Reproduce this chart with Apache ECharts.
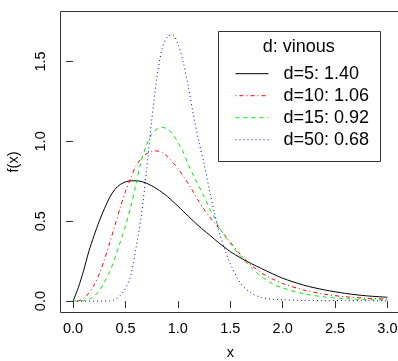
<!DOCTYPE html>
<html>
<head>
<meta charset="utf-8">
<script src="https://cdn.jsdelivr.net/npm/echarts@6/dist/echarts.min.js"></script>
<style>
html,body{margin:0;padding:0;background:#fff;}
#c{width:398px;height:361px;}
</style>
</head>
<body>
<div id="c"></div>
<script>
// x grid shared by all curves
const xs = [0,0.05,0.1,0.15,0.2,0.25,0.3,0.35,0.4,0.45,0.5,0.55,0.6,0.65,0.7,0.75,0.8,0.85,0.9,0.95,1.0,1.05,1.1,1.15,1.2,1.25,1.3,1.35,1.4,1.45,1.5,1.6,1.7,1.8,1.9,2.0,2.2,2.4,2.6,2.8,3.0];
const d5  = [0,0.085,0.19,0.31,0.41,0.50,0.58,0.65,0.70,0.73,0.746,0.753,0.753,0.749,0.738,0.722,0.703,0.68,0.655,0.625,0.595,0.563,0.532,0.50,0.47,0.442,0.415,0.387,0.36,0.335,0.31,0.27,0.235,0.203,0.172,0.143,0.10,0.07,0.048,0.033,0.024];
const d10 = [0,0.002,0.015,0.05,0.10,0.17,0.26,0.365,0.475,0.585,0.685,0.77,0.845,0.893,0.922,0.937,0.94,0.93,0.905,0.87,0.83,0.785,0.735,0.68,0.625,0.575,0.53,0.49,0.45,0.41,0.37,0.29,0.225,0.175,0.14,0.11,0.07,0.043,0.027,0.018,0.013];
const d15 = [0,0,0.002,0.01,0.03,0.065,0.12,0.185,0.27,0.37,0.47,0.59,0.73,0.875,0.975,1.045,1.077,1.087,1.078,1.045,0.995,0.935,0.855,0.785,0.72,0.655,0.585,0.52,0.455,0.405,0.36,0.28,0.21,0.152,0.11,0.082,0.046,0.026,0.015,0.009,0.006];
const d50 = [0,0,0,0,0,0,0,0.002,0.01,0.035,0.08,0.16,0.33,0.53,0.81,1.13,1.40,1.58,1.655,1.668,1.61,1.50,1.34,1.16,1.00,0.86,0.70,0.55,0.42,0.32,0.235,0.11,0.05,0.022,0.012,0.008,0.004,0.003,0.003,0.002,0.002];
const seriesNames = ['d=5: 1.40','d=10: 1.06','d=15: 0.92','d=50: 0.68'];
const xTicks = [0,0.5,1,1.5,2,2.5,3];
const yTicks = [0,0.5,1,1.5];
const legendTitle = 'd: vinous';

const curves = [d5,d10,d15,d50];
const colors = ['#000000','#ff0000','#00ee00','#0000ff'];
const dashes = ['solid',[1,3,4,3],[4,4],[1,3]];

const chart = echarts.init(document.getElementById('c'), null, {renderer:'canvas'});
const font = 'Liberation Sans, Arial, sans-serif';
chart.setOption({
  animation:false,
  backgroundColor:'#fff',
  grid:{left:60.5,top:11.5,right:-2,bottom:48.5,show:true,borderColor:'#333',borderWidth:1,containLabel:false,outerBoundsMode:'none'},
  xAxis:{type:'value',min:-0.12,max:3.12,
    axisLine:{show:false},splitLine:{show:false},
    axisTick:{show:true,length:7,inside:false,lineStyle:{color:'#333'},customValues:xTicks},
    axisLabel:{customValues:xTicks,formatter:v=>v.toFixed(1),fontSize:14.5,color:'#000',fontFamily:font,margin:9},
    name:'x',nameLocation:'middle',nameGap:33,nameTextStyle:{fontSize:14.5,color:'#000',fontFamily:font}},
  yAxis:{type:'value',min:-0.0714,max:1.813,
    axisLine:{show:false},splitLine:{show:false},
    axisTick:{show:true,length:7,inside:false,lineStyle:{color:'#333'},customValues:yTicks},
    axisLabel:{customValues:yTicks,formatter:v=>v.toFixed(1),rotate:90,fontSize:14.5,color:'#000',fontFamily:font,margin:12},
    name:'f(x)',nameLocation:'middle',nameGap:39,nameRotate:90,nameTextStyle:{fontSize:14.5,color:'#000',fontFamily:font}},
  legend:{orient:'vertical',left:235,top:63.7,padding:0,itemWidth:33,itemHeight:14,itemGap:2,
    data:seriesNames,
    itemStyle:{opacity:0},
    lineStyle:{width:1},
    textStyle:{fontSize:18,fontFamily:font,color:'#000',lineHeight:20,padding:[0,0,0,10]}},
  graphic:[
    {type:'rect',shape:{x:218.5,y:31.5,width:162,height:130},style:{fill:'none',stroke:'#333',lineWidth:1},z:100},
    {type:'text',x:298.7,y:47.3,style:{text:legendTitle,font:'18px '+font,fill:'#000',align:'center',verticalAlign:'middle'},z:100}
  ],
  series:curves.map((c,i)=>({
    name:seriesNames[i],type:'line',symbol:'none',smooth:0.3,
    data:xs.map((x,j)=>[x,c[j]]),
    lineStyle:{color:colors[i],width:1,type:dashes[i]},
    itemStyle:{color:colors[i],opacity:0}
  }))
});
</script>
</body>
</html>
